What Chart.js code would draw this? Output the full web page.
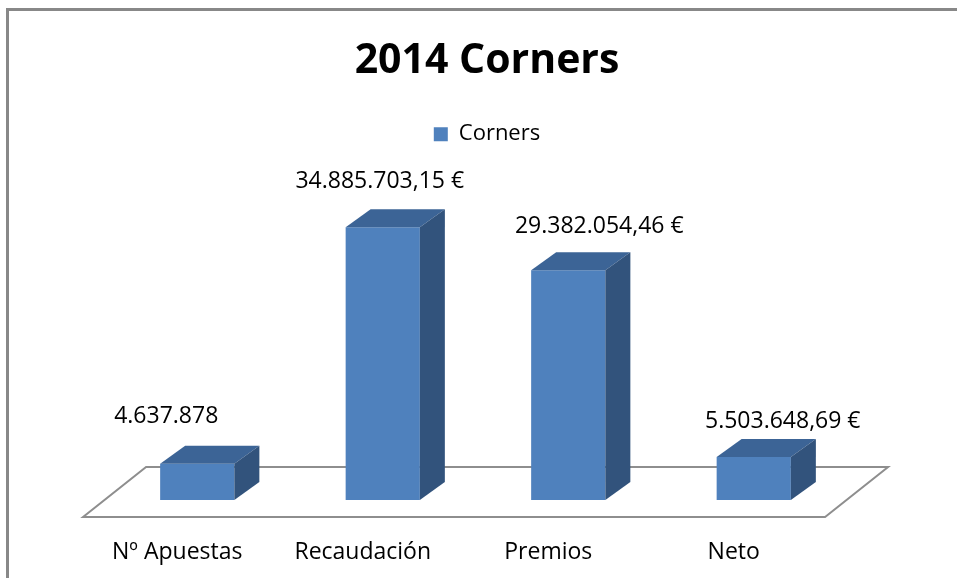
<!DOCTYPE html>
<html>
<head>
<meta charset="utf-8">
<script src="https://cdn.jsdelivr.net/npm/chart.js@4.4.0/dist/chart.umd.min.js"></script>
<style>
  html, body { margin: 0; padding: 0; background: #fff; overflow: hidden; width: 957px; height: 578px; }
  #frame { position: absolute; left: 6px; top: 8px; width: 1000px; height: 600px; border-top: 3px solid #888; border-left: 3px solid #888; }
  #c { position: absolute; left: 0; top: 0; }
</style>
</head>
<body>
<div id="frame"></div>
<canvas id="c" width="974" height="578"></canvas>
<script>
const categories = ["Nº Apuestas", "Recaudación", "Premios", "Neto"];
const values = [4637878, 34885703.15, 29382054.46, 5503648.69];
const valueLabels = ["4.637.878", "34.885.703,15 €", "29.382.054,46 €", "5.503.648,69 €"];
const seriesName = "Corners";

// fake 3d look
const DX = 25, DY = 18;
const FLOOR_FRONT = 17, FLOOR_BACK = 33, FLOOR_SLOPE = 1.26;
const labelNudgeX = [-31, -3, 31, 29];
const labelNudgeY = [-1, 0, 2, 10];
const labelFont = '23px "Open Sans"';
const yMax = 44.1e6;

const box3d = {
  id: "box3d",
  beforeDatasetsDraw(chart) {
    const { ctx, chartArea: a } = chart;
    const base = a.bottom;
    ctx.save();
    ctx.strokeStyle = "#8e8e8e";
    ctx.lineWidth = 2;
    ctx.beginPath();
    ctx.moveTo(a.left - FLOOR_FRONT * FLOOR_SLOPE, base + FLOOR_FRONT);
    ctx.lineTo(a.right - FLOOR_FRONT * FLOOR_SLOPE, base + FLOOR_FRONT);
    ctx.lineTo(a.right + FLOOR_BACK * FLOOR_SLOPE, base - FLOOR_BACK);
    ctx.lineTo(a.left + FLOOR_BACK * FLOOR_SLOPE, base - FLOOR_BACK);
    ctx.closePath();
    ctx.stroke();
    ctx.restore();
  },
  afterDatasetsDraw(chart) {
    const { ctx } = chart;
    const meta = chart.getDatasetMeta(0);
    ctx.save();
    meta.data.forEach((bar, i) => {
      const { x, y, base, width } = bar.getProps(["x", "y", "base", "width"], true);
      const l = x - width / 2, r = x + width / 2;
      // top face
      ctx.fillStyle = "#3c6496";
      ctx.beginPath();
      ctx.moveTo(l, y);
      ctx.lineTo(r, y);
      ctx.lineTo(r + DX, y - DY);
      ctx.lineTo(l + DX, y - DY);
      ctx.closePath();
      ctx.fill();
      // side face
      ctx.fillStyle = "#32537c";
      ctx.beginPath();
      ctx.moveTo(r, y);
      ctx.lineTo(r + DX, y - DY);
      ctx.lineTo(r + DX, base - DY);
      ctx.lineTo(r, base);
      ctx.closePath();
      ctx.fill();

      ctx.fillStyle = "#000";
      ctx.font = labelFont;
      ctx.textAlign = "center";
      ctx.textBaseline = "middle";
      ctx.fillText(valueLabels[i], x + labelNudgeX[i], y - DY - 28 + labelNudgeY[i]);
      ctx.fillText(categories[i], x - 20, base + 52);
    });
    ctx.restore();
  }
};

// invisible axes just to reserve the side space
const spacer = (w, pos) => ({
  type: "linear",
  position: pos,
  display: true,
  min: 0,
  max: yMax,
  ticks: { display: false },
  grid: { display: false, drawTicks: false },
  border: { display: false },
  afterFit(s) { s.width = w; }
});

new Chart(document.getElementById("c"), {
  type: "bar",
  data: {
    labels: categories,
    datasets: [{
      label: seriesName,
      data: values,
      backgroundColor: "#4f81bd",
      borderWidth: 0,
      barPercentage: 0.4,
      categoryPercentage: 1
    }]
  },
  options: {
    responsive: false,
    animation: false,
    layout: { padding: { left: 0, right: 0, top: 0, bottom: 78 } },
    scales: {
      x: { display: false, offset: true },
      y: spacer(104.5, "left"),
      y2: spacer(127.5, "right")
    },
    plugins: {
      title: {
        display: true,
        text: "2014 Corners",
        color: "#000",
        font: { family: '"Open Sans"', size: 41, weight: "bold" },
        padding: { top: 37, bottom: 27 }
      },
      legend: {
        display: true,
        labels: { boxWidth: 14, boxHeight: 14, color: "#000", font: { family: '"Open Sans"', size: 22 }, padding: 10 }
      },
      tooltip: { enabled: false }
    }
  },
  plugins: [box3d]
});
</script>
</body>
</html>
